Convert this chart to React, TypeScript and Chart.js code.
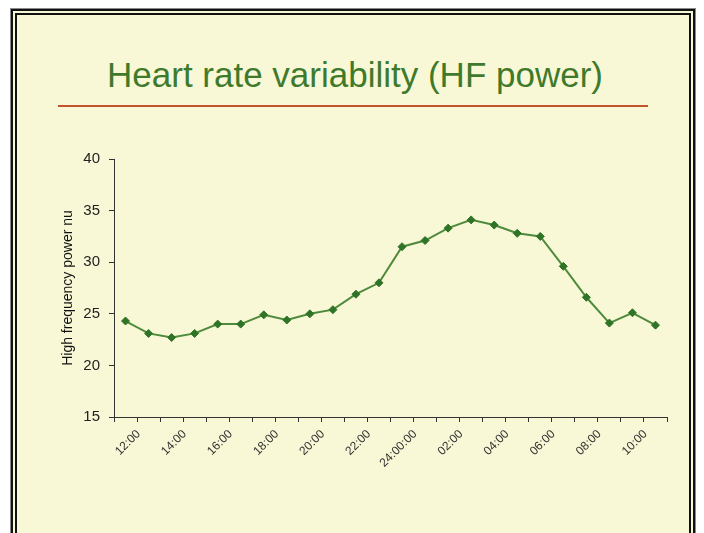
import React, { useEffect, useRef } from "react";
import { Chart, registerables } from "chart.js";

Chart.register(...registerables);

// Hourly categories (every other one is labelled on the axis)
const categories: string[] = [
  "12:00", "13:00", "14:00", "15:00", "16:00", "17:00",
  "18:00", "19:00", "20:00", "21:00", "22:00", "23:00",
  "24:00:00", "01:00", "02:00", "03:00", "04:00", "05:00",
  "06:00", "07:00", "08:00", "09:00", "10:00", "11:00",
];

// High frequency power (nu)
const hfPower: number[] = [
  24.3, 23.1, 22.7, 23.1, 24.0, 24.0,
  24.9, 24.4, 25.0, 25.4, 26.9, 28.0,
  31.5, 32.1, 33.3, 34.1, 33.6, 32.8,
  32.5, 29.6, 26.6, 24.1, 25.1, 23.9,
];

const yTicks: number[] = [15, 20, 25, 30, 35, 40];

const FONT = "'Liberation Sans', Arial, sans-serif";

export default function App() {
  const canvasRef = useRef<HTMLCanvasElement | null>(null);

  useEffect(() => {
    const canvas = canvasRef.current;
    if (!canvas) return;
    const chart = new Chart(canvas, {
      type: "line",
      data: {
        labels: categories,
        datasets: [
          {
            data: hfPower,
            borderColor: "#4e8a3c",
            borderWidth: 2,
            tension: 0,
            pointStyle: "rectRot",
            pointRadius: 4,
            pointBackgroundColor: "#2f7326",
            pointBorderColor: "#2f7326",
            pointBorderWidth: 1,
            fill: false,
          },
        ],
      },
      options: {
        responsive: false,
        animation: false,
        events: [],
        layout: { padding: { left: 56, top: 159, right: 37, bottom: 0 } },
        plugins: {
          legend: { display: false },
          tooltip: { enabled: false },
          title: { display: false },
        },
        scales: {
          x: {
            type: "category",
            offset: true,
            grid: {
              offset: true,
              drawOnChartArea: false,
              drawTicks: true,
              tickLength: 5,
              color: "#333333",
            },
            border: { color: "#333333", width: 1 },
            ticks: {
              autoSkip: false,
              maxRotation: 45,
              minRotation: 45,
              labelOffset: 13,
              padding: 5,
              color: "#333333",
              font: { family: FONT, size: 12 },
              callback: (_v: any, i: number) => (i % 2 === 0 ? categories[i] : ""),
            },
            afterFit: (scale: any) => {
              scale.height = 116;
            },
          },
          y: {
            min: yTicks[0],
            max: yTicks[yTicks.length - 1],
            afterBuildTicks: (scale: any) => {
              scale.ticks = yTicks.map((v) => ({ value: v }));
            },
            grid: {
              drawOnChartArea: false,
              drawTicks: true,
              tickLength: 5,
              color: "#333333",
            },
            border: { color: "#333333", width: 1 },
            ticks: {
              padding: 9,
              color: "#222222",
              font: { family: FONT, size: 15 },
            },
            title: {
              display: true,
              text: "High frequency power nu",
              color: "#111111",
              font: { family: FONT, size: 14 },
              padding: { top: 4, bottom: 4 },
            },
            afterFit: (scale: any) => {
              scale.width = 58;
            },
          },
        },
      },
    });
    return () => chart.destroy();
  }, []);

  return (
    <div
      style={{
        position: "absolute",
        left: 0,
        top: 0,
        width: 704,
        height: 533,
        background: "#ffffff",
        overflow: "hidden",
      }}
    >
      <div
        style={{
          position: "absolute",
          left: 10,
          top: 8,
          width: 686,
          height: 600,
          boxSizing: "border-box",
          border: "1px solid #8a8a8a",
        }}
      />
      <div
        style={{
          position: "absolute",
          left: 11,
          top: 9,
          width: 684,
          height: 600,
          boxSizing: "border-box",
          border: "6px double #111111",
          background: "#f9f8d6",
        }}
      />
      <div
        style={{
          position: "absolute",
          left: 16,
          top: 57,
          width: 678,
          textAlign: "center",
          fontFamily: FONT,
          fontSize: 35,
          lineHeight: "35px",
          color: "#3f7a2c",
          whiteSpace: "nowrap",
        }}
      >
        Heart rate variability (HF power)
      </div>
      <div
        style={{
          position: "absolute",
          left: 58,
          top: 105,
          width: 590,
          height: 2,
          background: "#c4532d",
        }}
      />
      <canvas
        ref={canvasRef}
        width={704}
        height={533}
        style={{ position: "absolute", left: 0, top: 0, width: 704, height: 533 }}
      />
    </div>
  );
}
